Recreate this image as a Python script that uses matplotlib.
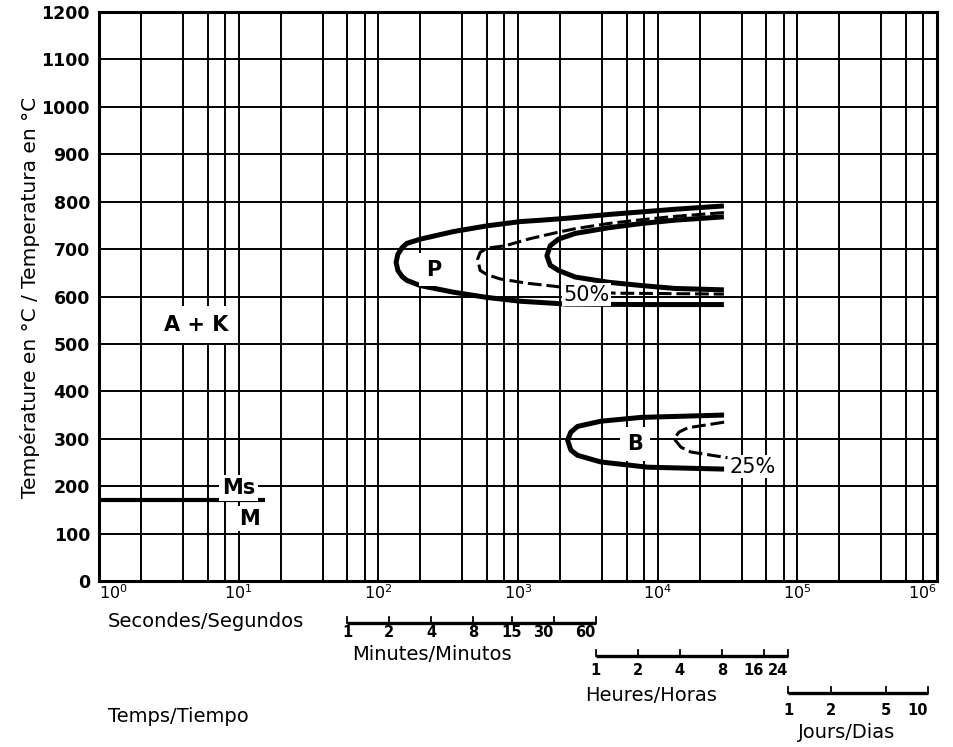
import matplotlib
matplotlib.use("Agg")
import matplotlib.pyplot as plt
from matplotlib.transforms import blended_transform_factory

plt.rcParams['font.family'] = ['DejaVu Sans']

# ---------------- data ----------------
temp_ticks = list(range(0, 1300, 100))
time_decades = [1e0, 1e1, 1e2, 1e3, 1e4, 1e5, 1e6]
time_decade_labels = [r'$10^{0}$', r'$10^{1}$', r'$10^{2}$', r'$10^{3}$',
                      r'$10^{4}$', r'$10^{5}$', r'$10^{6}$']
grid_multipliers = [2, 4, 6, 8]

# Pearlite start (outer C-curve), seconds / degC
p_start_t = [29800, 13300, 4470, 2240, 1480, 1040, 600, 346, 200, 160, 148, 138,
             134, 138, 148, 160, 200, 346, 600, 1040, 2240, 7710, 29800]
p_start_T = [791, 784, 773, 765, 761, 758, 749, 737, 721, 712, 703, 689,
             672, 655, 642, 634, 623, 609, 598, 590, 584, 583, 583]

# Pearlite finish (inner C-curve)
p_finish_t = [29800, 13300, 7710, 4450, 2570, 1950, 1700, 1610, 1700, 1950,
              2570, 4450, 7710, 13300, 29800]
p_finish_T = [768, 761, 754, 745, 733, 721, 707, 686, 666, 655,
              641, 630, 623, 617, 614]

# Pearlite 50 % (dashed)
p_50_t = [29800, 13300, 7710, 4450, 2570, 1900, 1220, 810, 600, 536, 514, 536,
          600, 746, 1160, 1900, 2570, 4940, 13300, 29800]
p_50_T = [777, 769, 762, 754, 743, 735, 722, 707, 702, 693, 679, 655,
          646, 637, 628, 621, 614, 607, 606, 605]

# Bainite start
b_start_t = [29900, 7580, 3920, 2670, 2390, 2265, 2390, 2670, 3920, 8470, 29900]
b_start_T = [350, 345, 337, 326, 314, 297, 276, 265, 251, 240, 236]

# Bainite 25 % (dashed)
b_25_t = [29900, 16400, 14200, 13100, 14700, 17300, 31600]
b_25_T = [335, 323, 314, 300, 282, 272, 260]

# Martensite start line
ms_t = [1, 15.4]
ms_T = [170, 170]

# secondary time scales
minute_marks = [1, 2, 4, 8, 15, 30, 60]
hour_marks = [1, 2, 4, 8, 16, 24]
day_marks = [1, 2, 5, 10]

# ---------------- figure ----------------
W, H = 954, 747
fig = plt.figure(figsize=(W / 100, H / 100), dpi=100)
ax = fig.add_axes([99 / W, 1 - 581 / H, (937 - 99) / W, (581 - 12) / H])

ax.set_xscale('log')

# grid
minor_pos = [m * d for d in time_decades[:-1] for m in grid_multipliers]
ax.set_xticks(time_decades)
ax.set_xticklabels(time_decade_labels, fontsize=11.5)
ax.set_xticks(minor_pos, minor=True)
ax.xaxis.set_minor_formatter(plt.NullFormatter())
ax.set_yticks(temp_ticks)
ax.set_yticklabels([str(v) for v in temp_ticks], fontsize=12.5, fontweight='bold')
ax.tick_params(axis='both', which='both', length=0)
ax.tick_params(axis='x', pad=2)
ax.tick_params(axis='y', pad=6.5)
ax.grid(True, which='both', axis='x', color='black', lw=1.4)
ax.grid(True, which='major', axis='y', color='black', lw=1.4)
ax.set_axisbelow(True)
xl = ax.get_xticklabels()
xl[0].set_ha('left')
xl[-1].set_ha('right')

for s in ax.spines.values():
    s.set_linewidth(2.2)

# curves
thick = 3.6
ax.plot(p_start_t, p_start_T, color='black', lw=thick, solid_capstyle='butt', zorder=2)
ax.plot(p_finish_t, p_finish_T, color='black', lw=thick, solid_capstyle='butt', zorder=2)
ax.plot(p_50_t, p_50_T, color='black', lw=2.2, ls=(0, (4.5, 1.6)), zorder=2)
ax.plot(b_start_t, b_start_T, color='black', lw=thick, solid_capstyle='butt', zorder=2)
ax.plot(b_25_t, b_25_T, color='black', lw=2.2, ls=(0, (4.5, 1.6)), zorder=2)
ax.plot(ms_t, ms_T, color='black', lw=3.0, solid_capstyle='butt', zorder=2)

wb = dict(facecolor='white', edgecolor='none', pad=2)
ax.text(5.0, 545, 'A + K', fontsize=15, fontweight='bold', ha='center',
        va='center_baseline', bbox=dict(facecolor='white', edgecolor='none', pad=6), zorder=4)
ax.text(10, 200, 'Ms', fontsize=15, fontweight='bold', ha='center',
        va='center_baseline', bbox=wb, zorder=4)
ax.text(12, 136, 'M', fontsize=15, fontweight='bold', ha='center',
        va='center_baseline', bbox=wb, zorder=4)
ax.text(250, 661, 'P', fontsize=15, fontweight='bold', ha='center',
        va='center_baseline', bbox=dict(facecolor='white', edgecolor='none', pad=5), zorder=4)
ax.text(6870, 293, 'B', fontsize=15, fontweight='bold', ha='center',
        va='center_baseline', bbox=dict(facecolor='white', edgecolor='none', pad=5), zorder=4)
ax.text(3090, 608, '50%', fontsize=15, ha='center', va='center_baseline',
        bbox=dict(facecolor='white', edgecolor='none', pad=1), zorder=4)
ax.text(47600, 245, '25%', fontsize=15, ha='center', va='center_baseline',
        bbox=dict(facecolor='white', edgecolor='none', pad=1), zorder=4)

# y label
fig.text(30 / W, 1 - 297 / H, 'Température en °C / Temperatura en °C',
         rotation=90, ha='center', va='center', fontsize=14.5)

# secondary scales
tr = blended_transform_factory(ax.transData, fig.transFigure)


def fy(px):
    return 1 - px / H


def draw_scale(marks, factor, bar_px, lab_px):
    secs = [m * factor for m in marks]
    ax.plot([secs[0], secs[-1]], [fy(bar_px), fy(bar_px)], transform=tr,
            color='black', lw=2.4, solid_capstyle='butt', clip_on=False)
    n = len(marks)
    for i, (s, m) in enumerate(zip(secs, marks)):
        ax.plot([s, s], [fy(bar_px), fy(bar_px - 6)], transform=tr,
                color='black', lw=1.3, clip_on=False)
        if i == n - 1 or (i == n - 2 and len(str(m)) > 1):
            ha = 'right'
        else:
            ha = 'center'
        ax.text(s, fy(lab_px), str(m), transform=tr, ha=ha, va='baseline',
                fontsize=10.5, fontweight='bold')


draw_scale(minute_marks, 60, 622.5, 637)
draw_scale(hour_marks, 3600, 655.5, 675)
draw_scale(day_marks, 86400, 692.5, 715)

fig.text(108 / W, fy(627), 'Secondes/Segundos', fontsize=14, va='baseline', ha='left')
fig.text(352 / W, fy(660), 'Minutes/Minutos', fontsize=14, va='baseline', ha='left')
fig.text(585 / W, fy(701), 'Heures/Horas', fontsize=14, va='baseline', ha='left')
fig.text(798 / W, fy(738), 'Jours/Dias', fontsize=14, va='baseline', ha='left')
fig.text(108 / W, fy(722), 'Temps/Tiempo', fontsize=14, va='baseline', ha='left')

ax.set_xlim(1, 1e6)
ax.set_ylim(0, 1200)

fig.savefig('out.png', dpi=100)
